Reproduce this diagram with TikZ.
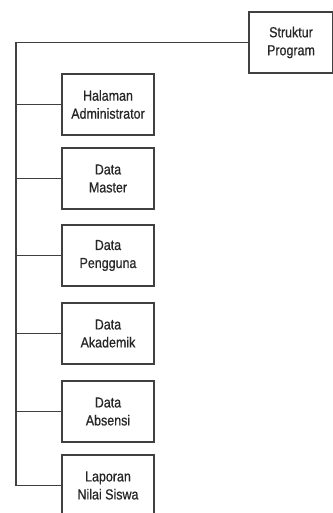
\documentclass[tikz,border=0pt]{standalone}
\usepackage{fontspec}
\setmainfont{Liberation Sans}[FakeStretch=0.86,FakeBold=0.6]
\begin{document}
\begin{tikzpicture}[x=1pt,y=-1pt,
  line/.style={draw=black!75, line width=1.3pt},
  box/.style={line, fill=white, minimum width=92pt, minimum height=61pt, inner sep=0pt,
    align=center, font=\fontsize{14.5}{18}\selectfont, text=black!85},
  rootbox/.style={box, minimum width=84pt}]
\useasboundingbox (0,0) rectangle (332,513);
\coordinate (trunktop) at (16,42.5);
\node[rootbox] (root) at (291,42.5) {Struktur\\Program};
\node[box] (c1) at (108,104.5) {Halaman\\Administrator};
\node[box] (c2) at (108,178.5) {Data\\Master};
\node[box] (c3) at (108,255.5) {Data\\Pengguna};
\node[box] (c4) at (108,333.5) {Data\\Akademik};
\node[box] (c5) at (108,411.5) {Data\\Absensi};
\node[box] (c6) at (108,485.5) {Laporan\\Nilai Siswa};
\coordinate (trunkbot) at (16,485.5);
\draw[line] (root.west) -- (trunktop) -- (trunkbot) -- (c6.west);
\foreach \n in {c1,c2,c3,c4,c5}{
  \draw[line] (\n.west) -- (\n.west -| trunktop);
}
\end{tikzpicture}
\end{document}
